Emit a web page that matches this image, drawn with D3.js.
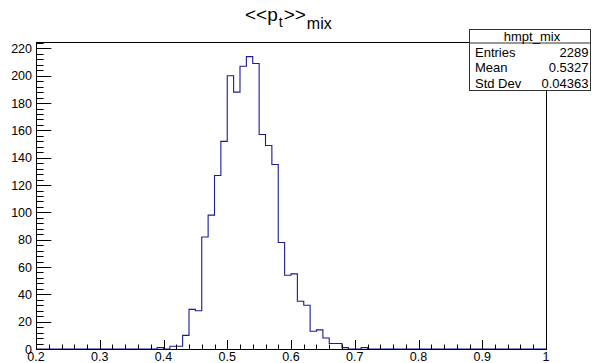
<!DOCTYPE html>
<html lang="en">
<head>
    <meta charset="UTF-8">
    <title>hmpt_mix</title>
    <script src="https://d3js.org/d3.v7.min.js"></script>
</head>

<style>
    body{
        margin: 0;
        background: white;
    }
    svg text {
        font-family: "Liberation Sans", Arial, Helvetica, sans-serif;
        fill: black;
    }
</style>
<body>

    <svg id = "chart"></svg>

    <script>
        const width = 592;
        const height = 363;

    //Histogram data (bin width 0.01, range 0.2 - 1)
        const histName = "hmpt_mix";
        const xMin = 0.2;
        const xMax = 1.0;
        const binWidth = 0.01;
        const binLowEdges = [0.39, 0.40, 0.41, 0.42, 0.43, 0.44, 0.45, 0.46, 0.47, 0.48,
                             0.49, 0.50, 0.51, 0.52, 0.53, 0.54, 0.55, 0.56, 0.57, 0.58,
                             0.59, 0.60, 0.61, 0.62, 0.63, 0.64, 0.65, 0.66, 0.67, 0.68,
                             0.69, 0.70, 0.71];
        const binCounts   = [1, 0, 2, 2, 10, 29, 28, 82, 98, 127,
                             152, 200, 188, 207, 214, 209, 157, 149, 135, 78,
                             54, 55, 35, 32, 13, 14, 8, 4, 4, 1,
                             0, 0, 1];
        const xTickLabels = [0.2, 0.3, 0.4, 0.5, 0.6, 0.7, 0.8, 0.9, 1];
        const yTickLabels = [0, 20, 40, 60, 80, 100, 120, 140, 160, 180, 200, 220];
        const statLabels = ["Entries", "Mean", "Std Dev"];
        const statValues = ["2289", "0.5327", "0.04363"];

    //Frame
        const margin = {top: 42, right: 46, bottom: 14, left: 36};
        const frameW = width - margin.left - margin.right;
        const frameH = height - margin.top - margin.bottom;

        const svg = d3.select("#chart")
            .attr("width", width)
            .attr("height", height);

        const x = d3.scaleLinear()
            .domain([xMin, xMax])
            .range([margin.left, margin.left + frameW]);

        const yMax = d3.max(binCounts) * 1.05;
        const y = d3.scaleLinear()
            .domain([0, yMax])
            .range([margin.top + frameH, margin.top]);

    //Histogram outline (step line over the whole range)
        const counts = d3.range(Math.round((xMax - xMin) / binWidth)).map(i => {
            const lo = xMin + i * binWidth;
            const j = binLowEdges.findIndex(e => Math.abs(e - lo) < 1e-6);
            return {lo: lo, hi: lo + binWidth, n: j >= 0 ? binCounts[j] : 0};
        });

        let pts = [[x(xMin), y(0)]];
        counts.forEach(b => {
            pts.push([x(b.lo), y(b.n)]);
            pts.push([x(b.hi), y(b.n)]);
        });
        pts.push([x(xMax), y(0)]);

        svg.append("path")
            .attr("d", d3.line()(pts))
            .attr("fill", "none")
            .attr("stroke", "#1a1a99")
            .attr("stroke-width", 1.1);

    //Frame box
        svg.append("rect")
            .attr("x", margin.left + 0.5)
            .attr("y", margin.top + 0.5)
            .attr("width", frameW)
            .attr("height", frameH)
            .attr("fill", "none")
            .attr("stroke", "black")
            .attr("stroke-width", 1);

    //X axis ticks (inside, pointing up)
        const xMajorLen = 9, xMinorLen = 4.5;
        const xMinor = d3.range(0, 41).map(i => xMin + i * 0.02);
        svg.append("g").selectAll("line")
            .data(xMinor)
            .join("line")
            .attr("x1", d => Math.round(x(d)) + 0.5)
            .attr("x2", d => Math.round(x(d)) + 0.5)
            .attr("y1", y(0))
            .attr("y2", (d, i) => y(0) - (i % 5 === 0 ? xMajorLen : xMinorLen))
            .attr("stroke", "black");

        svg.append("g").selectAll("text")
            .data(xTickLabels)
            .join("text")
            .attr("x", d => x(d))
            .attr("y", 361)
            .attr("text-anchor", "middle")
            .attr("font-size", "12.5px")
            .text(d => d === 1 ? "1" : d.toFixed(1));

    //Y axis ticks (inside, pointing right)
        const yMajorLen = 15.3, yMinorLen = 7.6;
        const yMinor = d3.range(0, Math.floor(yMax / 4) + 1).map(i => i * 4);
        svg.append("g").selectAll("line")
            .data(yMinor)
            .join("line")
            .attr("x1", x(xMin))
            .attr("x2", (d, i) => x(xMin) + (i % 5 === 0 ? yMajorLen : yMinorLen))
            .attr("y1", d => Math.round(y(d)) + 0.5)
            .attr("y2", d => Math.round(y(d)) + 0.5)
            .attr("stroke", "black");

        svg.append("g").selectAll("text")
            .data(yTickLabels)
            .join("text")
            .attr("x", 32)
            .attr("y", d => y(d) + 4.5)
            .attr("text-anchor", "end")
            .attr("font-size", "12.5px")
            .text(d => d);

    //Title <<p_t>>_mix
        const title = svg.append("text")
            .attr("x", 245)
            .attr("y", 21)
            .attr("font-size", "19px");
        title.append("tspan").text("<<p");
        title.append("tspan").attr("dy", 6).attr("dx", 1).attr("font-size", "14px").text("t");
        title.append("tspan").attr("dy", -6).attr("dx", 1).text(">>");
        title.append("tspan").attr("dy", 8).attr("dx", 1).attr("font-size", "16px").text("mix");

    //Stats box
        const box = {x: 469.5, y: 29.5, w: 121, h: 61, head: 13.5};
        const stats = svg.append("g");
        stats.append("rect")
            .attr("x", box.x).attr("y", box.y)
            .attr("width", box.w).attr("height", box.h)
            .attr("fill", "white")
            .attr("stroke", "#333");
        stats.append("line")
            .attr("x1", box.x).attr("x2", box.x + box.w)
            .attr("y1", box.y + box.head).attr("y2", box.y + box.head)
            .attr("stroke", "#333");
        stats.append("text")
            .attr("x", box.x + box.w / 2 + 2)
            .attr("y", box.y + 11)
            .attr("text-anchor", "middle")
            .attr("font-size", "13px")
            .text(histName);
        stats.selectAll(".lab")
            .data(statLabels)
            .join("text")
            .attr("x", box.x + 5.5)
            .attr("y", (d, i) => 57 + i * 15.3)
            .attr("font-size", "13px")
            .text(d => d);
        stats.selectAll(".val")
            .data(statValues)
            .join("text")
            .attr("x", 588.5)
            .attr("y", (d, i) => 57 + i * 15.3)
            .attr("text-anchor", "end")
            .attr("font-size", "13px")
            .text(d => d);
    </script>
</body>
</html>
